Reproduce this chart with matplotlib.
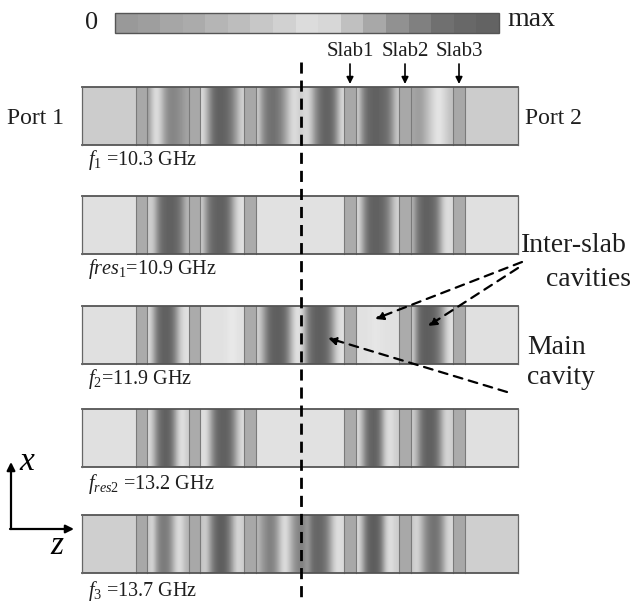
import numpy as np
import matplotlib
matplotlib.use("Agg")
import matplotlib.pyplot as plt
from matplotlib.patches import Rectangle, FancyArrowPatch

plt.rcParams['font.family'] = ['Liberation Serif', 'DejaVu Serif']
plt.rcParams['mathtext.fontset'] = 'custom'
plt.rcParams['mathtext.rm'] = 'Liberation Serif'
plt.rcParams['mathtext.it'] = 'Liberation Serif:italic'

# ---------------- data ----------------
# frequency of each field snapshot (GHz) and its symbol
freq_symbols = [r"$f_1$ ", r"$fres_1$", r"$f_2$", r"$f_{res2}$ ", r"$f_3$ "]
freq_values = [10.3, 10.9, 11.9, 13.2, 13.7]

# grey level (0 = black, 1 = white) of the uniform port regions, per snapshot
port1_level = [0.80, 0.88, 0.88, 0.88, 0.81]
port2_level = [0.80, 0.88, 0.88, 0.88, 0.81]
# grey level of the dielectric slabs, per snapshot
slab_level = [0.66, 0.67, 0.67, 0.67, 0.66]

# sampled |E| grey-level profiles inside each cavity, left to right
# cavity order: A (slab6-slab5), B (slab5-slab4), main, C (slab1-slab2), D (slab2-slab3)
cavity_A = [
    [0.62, 0.80, 0.88, 0.80, 0.65, 0.55, 0.52, 0.53, 0.56, 0.60, 0.64],
    [0.80, 0.80, 0.62, 0.45, 0.40, 0.38, 0.38, 0.40, 0.45, 0.58, 0.72],
    [0.86, 0.72, 0.50, 0.40, 0.38, 0.38, 0.42, 0.55, 0.75, 0.86, 0.88],
    [0.86, 0.76, 0.55, 0.42, 0.38, 0.38, 0.45, 0.65, 0.85, 0.88, 0.80],
    [0.78, 0.86, 0.62, 0.50, 0.48, 0.50, 0.62, 0.80, 0.88, 0.80, 0.70],
]
cavity_B = [
    [0.86, 0.75, 0.55, 0.42, 0.38, 0.38, 0.40, 0.45, 0.55, 0.70, 0.82],
    [0.80, 0.60, 0.45, 0.40, 0.38, 0.38, 0.40, 0.50, 0.70, 0.85, 0.88],
    [0.88, 0.88, 0.88, 0.88, 0.88, 0.88, 0.89, 0.91, 0.91, 0.89, 0.88],
    [0.86, 0.88, 0.70, 0.50, 0.40, 0.38, 0.38, 0.42, 0.55, 0.75, 0.86],
    [0.76, 0.82, 0.62, 0.45, 0.38, 0.36, 0.40, 0.52, 0.72, 0.86, 0.80],
]
cavity_main = [
    [0.80, 0.62, 0.50, 0.45, 0.44, 0.46, 0.52, 0.62, 0.75, 0.85, 0.86, 0.80,
     0.84, 0.86, 0.75, 0.58, 0.46, 0.40, 0.38, 0.40, 0.48, 0.68, 0.85],
    [0.88, 0.88, 0.88, 0.88, 0.88, 0.88, 0.88, 0.88, 0.88, 0.88, 0.88, 0.88,
     0.88, 0.88, 0.88, 0.88, 0.88, 0.88, 0.88, 0.88, 0.88, 0.88, 0.88],
    [0.82, 0.72, 0.55, 0.42, 0.38, 0.37, 0.38, 0.42, 0.55, 0.75, 0.88, 0.88,
     0.75, 0.52, 0.42, 0.38, 0.37, 0.38, 0.42, 0.52, 0.70, 0.85, 0.88],
    [0.88, 0.88, 0.88, 0.88, 0.88, 0.88, 0.88, 0.88, 0.88, 0.88, 0.88, 0.88,
     0.88, 0.88, 0.88, 0.88, 0.88, 0.88, 0.88, 0.88, 0.88, 0.88, 0.88],
    [0.72, 0.62, 0.55, 0.50, 0.52, 0.62, 0.78, 0.88, 0.80, 0.65, 0.55, 0.50,
     0.52, 0.62, 0.45, 0.40, 0.40, 0.42, 0.50, 0.65, 0.82, 0.88, 0.85],
]
cavity_C = [
    [0.80, 0.60, 0.45, 0.40, 0.38, 0.38, 0.40, 0.42, 0.48, 0.62, 0.78],
    [0.86, 0.70, 0.50, 0.40, 0.38, 0.38, 0.40, 0.45, 0.55, 0.72, 0.82],
    [0.88, 0.88, 0.88, 0.89, 0.90, 0.90, 0.89, 0.88, 0.88, 0.88, 0.88],
    [0.86, 0.72, 0.50, 0.40, 0.38, 0.40, 0.55, 0.80, 0.88, 0.85, 0.80],
    [0.86, 0.72, 0.48, 0.38, 0.36, 0.38, 0.48, 0.75, 0.88, 0.85, 0.80],
]
cavity_D = [
    [0.65, 0.62, 0.62, 0.68, 0.75, 0.82, 0.88, 0.90, 0.85, 0.80, 0.75],
    [0.70, 0.50, 0.42, 0.38, 0.38, 0.40, 0.45, 0.60, 0.80, 0.88, 0.85],
    [0.80, 0.55, 0.40, 0.37, 0.37, 0.38, 0.42, 0.50, 0.65, 0.82, 0.88],
    [0.80, 0.70, 0.50, 0.40, 0.38, 0.38, 0.42, 0.55, 0.75, 0.85, 0.80],
    [0.78, 0.85, 0.75, 0.60, 0.50, 0.45, 0.45, 0.50, 0.65, 0.82, 0.85],
]

# colour-scale steps from 0 to max
scale_steps = [0.60, 0.62, 0.65, 0.67, 0.71, 0.74, 0.78, 0.82, 0.86, 0.84,
               0.75, 0.66, 0.57, 0.50, 0.44, 0.41, 0.39]

slab_names = ["Slab1", "Slab2", "Slab3"]

# ---------------- layout (pixel units) ----------------
W, H = 633, 604
fig = plt.figure(figsize=(W / 100, H / 100), dpi=100)
ax = fig.add_axes([0, 0, 1, 1])
ax.set_xlim(0, W)
ax.set_ylim(H, 0)
ax.axis("off")

x_left, x_right = 82, 518
# layer boundaries along z: port1 | s | A | s | B | s | main | s | C | s | D | s | port2
bounds = [x_left, 136, 147, 189, 200, 244, 256, 344, 356, 399, 411, 453, 465, x_right]
strip_tops = [87, 196, 306, 409, 515]
strip_h = 58
label_y = [160, 269, 379, 484, 591]

cmap = "gray"
txt = "#1e1e1e"

for i, top in enumerate(strip_tops):
    bot = top + strip_h
    # ports
    ax.add_patch(Rectangle((bounds[0], top), bounds[1] - bounds[0], strip_h,
                           facecolor=str(port1_level[i]), edgecolor="none", zorder=1))
    ax.add_patch(Rectangle((bounds[12], top), bounds[13] - bounds[12], strip_h,
                           facecolor=str(port2_level[i]), edgecolor="none", zorder=1))
    # slabs
    for k in (1, 3, 5, 7, 9, 11):
        ax.add_patch(Rectangle((bounds[k], top), bounds[k + 1] - bounds[k], strip_h,
                               facecolor=str(slab_level[i]), edgecolor="none", zorder=1))
    # cavities
    cavs = [(2, cavity_A[i]), (4, cavity_B[i]), (6, cavity_main[i]),
            (8, cavity_C[i]), (10, cavity_D[i])]
    for k, prof in cavs:
        ax.imshow(np.array(prof)[None, :], cmap=cmap, vmin=0, vmax=1,
                  extent=(bounds[k], bounds[k + 1], bot, top), aspect="auto",
                  interpolation="bicubic", zorder=2)
    # slab edges
    for k in range(1, 13):
        ax.plot([bounds[k], bounds[k]], [top, bot], color="#7a7a7a", lw=0.8, zorder=3)
    # strip outline
    ax.plot([x_left, x_right], [top, top], color="#555555", lw=1.3, zorder=4)
    ax.plot([x_left, x_right], [bot, bot], color="#555555", lw=1.3, zorder=4)
    ax.plot([x_left, x_left], [top, bot], color="#666666", lw=0.9, zorder=4)
    ax.plot([x_right, x_right], [top, bot], color="#666666", lw=0.9, zorder=4)
    # frequency label
    ax.text(88, label_y[i], f"{freq_symbols[i]}={freq_values[i]} GHz",
            fontsize=14.5, ha="left", va="center", color=txt)

# ports
ax.text(64, 118, "Port 1", fontsize=17, ha="right", va="center", color=txt)
ax.text(525, 118, "Port 2", fontsize=17, ha="left", va="center", color=txt)

# colour scale
ax.imshow(np.array(scale_steps)[None, :], cmap=cmap, vmin=0, vmax=1,
          extent=(115, 499, 33, 13), aspect="auto", interpolation="nearest", zorder=2)
ax.add_patch(Rectangle((115, 13), 384, 20, facecolor="none", edgecolor="#555555",
                       lw=1.0, zorder=3))
ax.text(92, 23, "0", fontsize=19, ha="center", va="center", color=txt)
ax.text(507, 19, "max", fontsize=20, ha="left", va="center", color=txt)

# slab labels and arrows
slab_x = [(bounds[7] + bounds[8]) / 2, (bounds[9] + bounds[10]) / 2,
          (bounds[11] + bounds[12]) / 2]
for name, sx in zip(slab_names, slab_x):
    ax.text(sx, 52, name, fontsize=15, ha="center", va="center", color=txt)
    ax.annotate("", xy=(sx, 84), xytext=(sx, 64),
                arrowprops=dict(arrowstyle="-|>", color="black", lw=1.2,
                                mutation_scale=10, shrinkA=0, shrinkB=0))

# symmetry plane
ax.plot([301, 301], [62, 604], color="black", lw=2.0, linestyle=(0, (4, 2.5)), zorder=5)

# cavity annotations
def dashed_arrow(x0, y0, x1, y1):
    ax.add_patch(FancyArrowPatch((x0, y0), (x1, y1), arrowstyle="-|>",
                                 mutation_scale=12, color="black", lw=1.6,
                                 linestyle=(0, (4, 3)), shrinkA=0, shrinkB=0, zorder=6))

dashed_arrow(522, 262, 375, 319)
dashed_arrow(518, 268, 428, 326)
dashed_arrow(507, 392, 328, 338)

ax.text(521, 246, "Inter-slab", fontsize=20, ha="left", va="center", color=txt)
ax.text(631, 279, "cavities", fontsize=20, ha="right", va="center", color=txt)
ax.text(527, 347, "Main", fontsize=20, ha="left", va="center", color=txt)
ax.text(527, 378, "cavity", fontsize=20, ha="left", va="center", color=txt)

# coordinate axes
ax.annotate("", xy=(11, 462), xytext=(11, 529),
            arrowprops=dict(arrowstyle="-|>", color="black", lw=1.6,
                            mutation_scale=12, shrinkA=0, shrinkB=0))
ax.annotate("", xy=(74, 529), xytext=(10, 529),
            arrowprops=dict(arrowstyle="-|>", color="black", lw=1.6,
                            mutation_scale=12, shrinkA=0, shrinkB=0))
ax.text(27, 462, r"$x$", fontsize=24, ha="center", va="center")
ax.text(57, 546, r"$z$", fontsize=24, ha="center", va="center")

fig.savefig("out.png", dpi=100, facecolor="white")
